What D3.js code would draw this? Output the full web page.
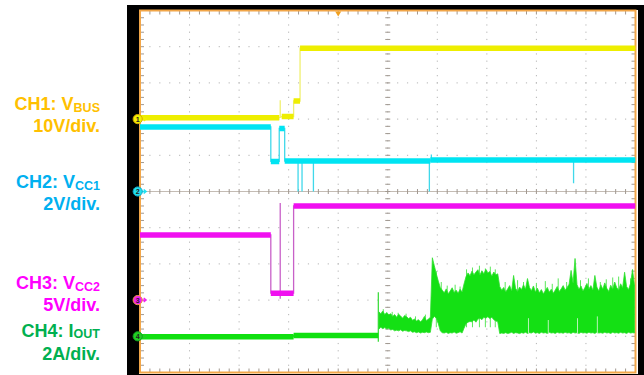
<!DOCTYPE html>
<html>
<head>
<meta charset="utf-8">
<script src="https://cdn.jsdelivr.net/npm/d3@7"></script>
<style>
  html, body { margin: 0; padding: 0; background: #fff; }
  svg { display: block; }
</style>
</head>
<body>
<svg id="scope" width="644" height="375"></svg>
<script>
// ---- graticule: horizontal time divisions and vertical divisions ----
const timeDivs = [0, 1, 2, 3, 4, 5, 6, 7, 8, 9, 10];
const vertDivs = [-5, -4, -3, -2, -1, 0, 1, 2, 3, 4, 5];
const triggerDiv = 4;

// ---- channel settings: units per division and ground offset (divisions from centre) ----
const channelIds = [1, 2, 3, 4];
const channelPerDiv = [10, 2, 5, 2];
const channelOffset = [2, 0, -3, -4];

// ---- channel captions ----
const labelMain = ["CH1: V", "CH2: V", "CH3: V", "CH4: I"];
const labelSub = ["BUS", "CC1", "CC2", "OUT"];
const labelScale = ["10V/div.", "2V/div.", "5V/div.", "2A/div."];

// ---- trace levels: [t start (div), t end (div), value] ----
const ch1Levels = [[0, 2.81, 0.4], [2.86, 3.10, 0.7], [3.10, 3.23, 5.0], [3.23, 10, 19.6]];
const ch2Levels = [[0, 2.64, 3.57], [2.64, 2.81, 1.66], [2.81, 2.92, 3.48], [2.92, 5.86, 1.68], [5.86, 10, 1.74]];
const ch3Levels = [[0, 2.64, 9.0], [2.64, 3.10, 0.95], [3.10, 10, 13.0]];
const ch4Levels = [[0, 3.10, -0.02], [3.10, 4.81, 0.04]];

// ---- short glitches: [t (div), from value, to value] ----
const ch1Glitches = [[2.83, 0.4, 5.2]];
const ch2Glitches = [[3.19, 1.68, 0], [3.27, 1.68, 0], [3.50, 1.68, 0], [5.84, 1.68, 0], [5.88, 1.74, 2.05], [8.75, 1.74, 0.45]];
const ch3Glitches = [[2.83, 0.2, 13.4]];
const ch4Glitches = [[4.81, -0.3, 2.44]];

// ---- CH4 output current after turn-on: peak-detect envelope (A), one sample every 0.04 div ----
const ch4NoiseStart = 4.82;
const ch4NoiseStep = 0.04;
const ch4Max = [
  1.35, 1.25, 1.40, 1.20, 1.32, 1.18, 1.25, 1.10, 1.20, 1.05,
  1.22, 1.12, 1.00, 1.15, 1.08, 0.98, 1.05, 0.88, 0.95, 0.85,
  0.92, 0.80, 0.90, 1.10, 0.86, 0.95, 1.05, 4.34, 3.90, 3.45,
  3.05, 2.70, 2.55, 2.40, 2.62, 2.35, 2.50, 2.68, 2.42, 2.55,
  2.38, 2.60, 2.45, 2.90, 3.30, 3.50, 3.35, 3.60, 3.40, 3.55,
  3.68, 3.38, 3.62, 3.45, 3.70, 3.50, 3.58, 3.32, 3.55, 3.40,
  3.45, 2.75, 2.55, 2.70, 2.45, 2.62, 2.80, 2.50, 3.36, 2.65,
  2.48, 2.72, 2.58, 2.85, 2.60, 3.19, 2.70, 2.52, 2.78, 2.45,
  2.66, 2.40, 2.58, 2.35, 2.52, 2.70, 2.44, 2.60, 2.38, 2.55,
  2.75, 2.48, 2.62, 2.80, 2.55, 2.70, 2.88, 3.64, 2.95, 4.30,
  2.85, 2.60, 2.78, 2.50, 2.70, 2.92, 2.62, 2.80, 2.55, 3.36,
  2.72, 2.50, 2.85, 2.60, 2.95, 2.66, 2.48, 2.82, 2.60, 3.00,
  2.70, 2.55, 2.90, 2.68, 3.54, 2.75, 2.58, 2.92, 3.69, 2.80
];
const ch4Min = [
  0.40, 0.50, 0.42, 0.48, 0.40, 0.45, 0.35, 0.38, 0.30, 0.34,
  0.30, 0.36, 0.28, 0.32, 0.30, 0.26, 0.30, 0.22, 0.25, 0.20,
  0.24, 0.18, 0.22, 0.20, 0.24, 0.20, 0.22, 0.95, 1.10, 1.00,
  0.70, 0.30, 0.20, 0.18, 0.22, 0.16, 0.20, 0.18, 0.24, 0.17,
  0.20, 0.25, 0.18, 0.45, 0.70, 0.78, 0.82, 0.80, 0.90, 0.78,
  0.95, 1.00, 0.92, 1.05, 1.00, 1.08, 0.98, 1.05, 0.92, 0.85,
  0.80, 0.15, 0.18, 0.16, 0.20, 0.15, 0.18, 0.22, 0.16, 0.20,
  0.18, 0.15, 0.20, 0.17, 0.22, 0.16, 0.20, 0.18, 0.24, 0.17,
  0.20, 0.16, 0.22, 0.18, 0.20, 0.16, 0.22, 0.18, 0.20, 0.16,
  0.22, 0.18, 0.20, 0.17, 0.22, 0.18, 0.20, 0.16, 0.22, 0.18,
  0.20, 0.16, 0.22, 0.18, 0.20, 0.17, 0.22, 0.18, 0.20, 0.16,
  0.22, 0.18, 0.20, 0.17, 0.22, 0.18, 0.20, 0.16, 0.22, 0.18,
  0.20, 0.17, 0.22, 0.18, 0.20, 0.16, 0.22, 0.18, 0.20, 0.18
];
// isolated current peaks rising above the envelope: [t (div), peak A]
const ch4Spikes = [
  [4.91, 1.50], [5.09, 1.35], [5.21, 1.30], [5.37, 1.25], [5.56, 1.10], [5.76, 1.20],
  [5.98, 3.60], [6.08, 3.00], [6.20, 2.80], [6.36, 2.85], [6.46, 2.75],
  [6.59, 3.70], [6.71, 3.80], [6.85, 3.90], [6.97, 3.75], [7.07, 3.85], [7.17, 3.70],
  [7.37, 3.00], [7.62, 3.10], [7.74, 3.00], [8.00, 2.95], [8.18, 3.05], [8.32, 2.90],
  [8.44, 3.20], [8.61, 3.00], [8.89, 3.10], [9.05, 3.20], [9.29, 3.00], [9.41, 3.15],
  [9.54, 3.25], [9.66, 3.30], [9.90, 3.20]
];
// brief dips that leave faint streaks in the band: [t (div), low A, high A]
const ch4Dips = [[7.84, 0.15, 1.0], [8.24, 0.15, 0.9], [8.83, 0.15, 1.0], [9.23, 0.15, 1.1]];

// ================= drawing =================
const svg = d3.select("#scope");
const W = 644, H = 375;
const scrLeft = 140, scrRight = 635.5, scrTop = 10.5, scrBottom = 372.5;

const x = d3.scaleLinear().domain([0, 10]).range([scrLeft, scrRight]);
const y = d3.scaleLinear().domain([-5, 5]).range([scrBottom, scrTop]);
const minorX = x(0.2) - x(0);
const minorY = y(0) - y(0.2);

// per-channel value scales sharing the graticule
const chScale = channelIds.map((id, i) =>
  d3.scaleLinear()
    .domain([(-5 - channelOffset[i]) * channelPerDiv[i], (5 - channelOffset[i]) * channelPerDiv[i]])
    .range([scrBottom, scrTop]));

const traceColor = ["#eeee00", "#00e4f2", "#f010f0", "#10e010"];
const edgeColor = ["#f0f070", "#40d8ea", "#c860c8", "#40dd40"];
const markFill = ["#f4f000", "#22e0f0", "#f020f0", "#22d022"];
const markStroke = ["#d8a800", "#10a8c8", "#f0a040", "#10a020"];
const labelColor = ["#FFC000", "#00B0F0", "#FF00FF", "#00B050"];

svg.append("rect").attr("width", W).attr("height", H).attr("fill", "#fff");

// black bezel and white screen
svg.append("rect").attr("x", 127).attr("y", 5).attr("width", W - 127).attr("height", H - 5).attr("fill", "#000");
svg.append("rect").attr("x", 139).attr("y", 10).attr("width", 499).attr("height", 364).attr("fill", "#fff");

const grid = svg.append("g");
const gridCol = "#b4b4b4";
const tickCol = "#a09890";

// dotted division lines
timeDivs.filter(d => d > 0 && d < 10).forEach(d => {
  grid.append("line")
    .attr("x1", x(d)).attr("x2", x(d)).attr("y1", scrTop).attr("y2", scrBottom)
    .attr("stroke", gridCol).attr("stroke-width", 1)
    .attr("stroke-dasharray", `1.2 ${minorY - 1.2}`)
    .attr("stroke-dashoffset", 0.6);
});
vertDivs.filter(d => d > -5 && d < 5 && d !== 0).forEach(d => {
  grid.append("line")
    .attr("x1", scrLeft).attr("x2", scrRight).attr("y1", y(d)).attr("y2", y(d))
    .attr("stroke", gridCol).attr("stroke-width", 1)
    .attr("stroke-dasharray", `1.2 ${minorX - 1.2}`)
    .attr("stroke-dashoffset", 0.6);
});
// centre horizontal axis line
grid.append("line")
  .attr("x1", scrLeft).attr("x2", scrRight).attr("y1", y(0)).attr("y2", y(0))
  .attr("stroke", "#c4bcb4").attr("stroke-width", 1);

// minor ticks along the edges and the centre axes
const minorT = d3.range(0, 10.001, 0.2);
const minorV = d3.range(-5, 5.001, 0.2);
minorT.forEach(t => {
  const xx = x(t);
  grid.append("line").attr("x1", xx).attr("x2", xx).attr("y1", scrTop).attr("y2", scrTop + 4).attr("stroke", tickCol);
  grid.append("line").attr("x1", xx).attr("x2", xx).attr("y1", scrBottom - 4).attr("y2", scrBottom).attr("stroke", tickCol);
  grid.append("line").attr("x1", xx).attr("x2", xx).attr("y1", y(0) - 2.5).attr("y2", y(0) + 2.5).attr("stroke", tickCol);
});
minorV.forEach(v => {
  const yy = y(v);
  grid.append("line").attr("x1", scrLeft).attr("x2", scrLeft + 4).attr("y1", yy).attr("y2", yy).attr("stroke", tickCol);
  grid.append("line").attr("x1", scrRight - 4).attr("x2", scrRight).attr("y1", yy).attr("y2", yy).attr("stroke", tickCol);
  grid.append("line").attr("x1", x(5) - 2.5).attr("x2", x(5) + 2.5).attr("y1", yy).attr("y2", yy).attr("stroke", tickCol);
});

// orange screen border
svg.append("rect")
  .attr("x", scrLeft).attr("y", scrTop).attr("width", scrRight - scrLeft).attr("height", scrBottom - scrTop)
  .attr("fill", "none").attr("stroke", "#f2a648").attr("stroke-width", 2);

// trigger position marker
svg.append("path")
  .attr("d", `M${x(triggerDiv) - 3},${scrTop + 1} L${x(triggerDiv) + 3},${scrTop + 1} L${x(triggerDiv)},${scrTop + 6} Z`)
  .attr("fill", "#f0a020");

// ---- traces ----
svg.append("clipPath").attr("id", "screen")
  .append("rect").attr("x", scrLeft).attr("y", scrTop).attr("width", scrRight - scrLeft).attr("height", scrBottom - scrTop);
const traces = svg.append("g").attr("clip-path", "url(#screen)");

const allLevels = [ch1Levels, ch2Levels, ch3Levels, ch4Levels];
const allGlitches = [ch1Glitches, ch2Glitches, ch3Glitches, ch4Glitches];
const line = d3.line();

function drawChannel(i) {
  const s = chScale[i];
  const g = traces.append("g");
  const levels = allLevels[i];
  // thin connecting path (transitions are drawn faint, as on the display)
  const pts = [];
  levels.forEach(l => { pts.push([x(l[0]), s(l[2])]); pts.push([x(l[1]), s(l[2])]); });
  g.append("path").attr("d", line(pts)).attr("fill", "none")
    .attr("stroke", edgeColor[i]).attr("stroke-width", 1.3);
  // glitches
  allGlitches[i].forEach(gl => {
    g.append("line")
      .attr("x1", x(gl[0])).attr("x2", x(gl[0]))
      .attr("y1", s(gl[1])).attr("y2", s(gl[2]))
      .attr("stroke", edgeColor[i]).attr("stroke-width", 1.3);
  });
  // thick levels
  levels.forEach(l => {
    g.append("line")
      .attr("x1", x(l[0])).attr("x2", x(l[1]))
      .attr("y1", s(l[2])).attr("y2", s(l[2]))
      .attr("stroke", traceColor[i]).attr("stroke-width", 5.5);
  });
  return g;
}

const g1 = drawChannel(0);
const g2 = drawChannel(1);
const g3 = drawChannel(2);
const g4 = drawChannel(3);

// CH4 noisy current band
const s4 = chScale[3];
ch4Spikes.forEach(sp => {
  g4.append("line")
    .attr("x1", x(sp[0])).attr("x2", x(sp[0]))
    .attr("y1", s4(0.5)).attr("y2", s4(sp[1]))
    .attr("stroke", "#5ae85a").attr("stroke-width", 1);
});
const noise = ch4Max.map((mx, k) => ({ t: ch4NoiseStart + k * ch4NoiseStep, hi: mx, lo: ch4Min[k] }));
const area = d3.area()
  .x(d => x(d.t))
  .y0(d => s4(d.lo))
  .y1(d => s4(d.hi));
g4.append("path").attr("d", area(noise))
  .attr("fill", "#14e014").attr("stroke", "#30e030").attr("stroke-width", 0.8);
ch4Dips.forEach(dp => {
  g4.append("line")
    .attr("x1", x(dp[0])).attr("x2", x(dp[0]))
    .attr("y1", s4(dp[1])).attr("y2", s4(dp[2]))
    .attr("stroke", "#b8f4b8").attr("stroke-width", 1);
});

// ---- channel ground markers ----
const markers = svg.append("g");
channelIds.forEach((id, i) => {
  const cy = y(channelOffset[i]);
  const cx = scrLeft - 2.3;
  markers.append("path")
    .attr("d", `M${cx + 4},${cy} L${cx + 8},${cy} M${cx + 6},${cy - 2} L${cx + 8.5},${cy} L${cx + 6},${cy + 2}`)
    .attr("stroke", markFill[i]).attr("stroke-width", 1.3).attr("fill", "none");
  markers.append("circle").attr("cx", cx).attr("cy", cy).attr("r", 4.6)
    .attr("fill", markFill[i]).attr("stroke", markStroke[i]).attr("stroke-width", 1);
  markers.append("text").attr("x", cx).attr("y", cy + 2.5)
    .attr("text-anchor", "middle")
    .attr("font-family", "Liberation Sans, Arial, sans-serif")
    .attr("font-size", 7).attr("font-weight", "bold").attr("fill", "#222")
    .text(id);
});

// ---- captions ----
const captionBase = [[110, 132], [188, 210], [289, 311], [336.5, 360]];
const captions = svg.append("g")
  .attr("font-family", "Liberation Sans, Arial, sans-serif")
  .attr("font-weight", "bold")
  .attr("text-anchor", "end");
channelIds.forEach((id, i) => {
  const t1 = captions.append("text").attr("x", 100).attr("y", captionBase[i][0])
    .attr("fill", labelColor[i]).attr("font-size", 18);
  t1.append("tspan").text(labelMain[i]);
  t1.append("tspan").attr("font-size", 12.5).attr("dy", 1.5).text(labelSub[i]);
  captions.append("text").attr("x", 100).attr("y", captionBase[i][1])
    .attr("fill", labelColor[i]).attr("font-size", 18).text(labelScale[i]);
});
</script>
</body>
</html>
